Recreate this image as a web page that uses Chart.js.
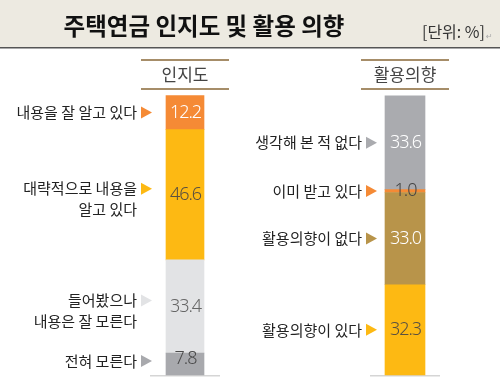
<!DOCTYPE html>
<html>
<head>
<meta charset="utf-8">
<script src="https://cdn.jsdelivr.net/npm/chart.js@4.4.1/dist/chart.umd.min.js"></script>
<style>
  html, body { margin: 0; padding: 0; background: #fff; }
  #wrap { position: relative; width: 500px; height: 381px; }
</style>
</head>
<body>
<div id="wrap"><canvas id="pensionChart" width="500" height="381"></canvas></div>
<script>
const title = "주택연금 인지도 및 활용 의향";
const unitLabel = "[단위: %]";
const columns = ["인지도", "활용의향"];

// segments listed top to bottom, as in the picture
const awarenessLabels = [["내용을 잘 알고 있다"], ["대략적으로 내용을", "알고 있다"], ["들어봤으나", "내용은 잘 모른다"], ["전혀 모른다"]];
const awarenessValues = [12.2, 46.6, 33.4, 7.8];

const intentionLabels = [["생각해 본 적 없다"], ["이미 받고 있다"], ["활용의향이 없다"], ["활용의향이 있다"]];
const intentionValues = [33.6, 1.0, 33.0, 32.3];

const awarenessColors = ["#F58A35", "#FDB913", "#E2E3E5", "#A8A9AD"];
const awarenessTextColors = ["#ffffff", "#5a5040", "#666666", "#4a4a4a"];
const intentionColors = ["#AAABAF", "#F58A35", "#B8944A", "#FDB913"];
const intentionTextColors = ["#ffffff", "#444444", "#ffffff", "#5a5040"];

const datasets = [];

// Chart.js stacks from the bottom up, so push the last segment first
const addColumn = (colIndex, labels, values, colors, textColors, thickness, gap) => {
    for (let i = values.length - 1; i >= 0; i--) {
        datasets.push({
            label: labels[i].join(" "),
            lines: labels[i],
            data: columns.map((c, k) => (k === colIndex ? values[i] : null)),
            backgroundColor: colors[i],
            valueColor: textColors[i],
            barThickness: thickness,
            arrowGap: gap,
            isBase: i === values.length - 1,
            borderWidth: 0,
            clip: false,
            stack: "total"
        });
    }
};

addColumn(0, awarenessLabels, awarenessValues, awarenessColors, awarenessTextColors, 38, 14);
addColumn(1, intentionLabels, intentionValues, intentionColors, intentionTextColors, 40, 8);

const decorPlugin = {
    id: "decor",
    beforeDraw(chart) {
        const ctx = chart.ctx;
        ctx.save();

        // title band
        ctx.fillStyle = "#EDEAE1";
        ctx.fillRect(0, 0, chart.width, 47);
        ctx.fillStyle = "#555";
        ctx.fillRect(0, 47, chart.width, 1.5);

        ctx.textBaseline = "middle";
        ctx.textAlign = "center";
        ctx.fillStyle = "#111";
        ctx.font = "bold 23.5px 'Noto Sans CJK KR'";
        ctx.fillText(title, 204, 26);

        ctx.textAlign = "right";
        ctx.fillStyle = "#333";
        ctx.font = "16px 'Noto Sans CJK KR'";
        ctx.fillText(unitLabel, 485, 32);
        ctx.fillStyle = "#aaa";
        ctx.font = "8px 'DejaVu Sans'";
        ctx.textAlign = "left";
        ctx.fillText("↵", 486, 37);

        // column headers and baselines
        const xs = chart.scales.x;
        const base = chart.scales.y.getPixelForValue(0);
        columns.forEach((name, k) => {
            const cx = xs.getPixelForValue(k);
            ctx.fillStyle = "#A68D69";
            ctx.fillRect(cx - 44, 59, 88, 2);
            ctx.fillRect(cx - 44, 88, 88, 2);

            ctx.fillStyle = "#444";
            ctx.font = "17px 'Noto Sans CJK KR'";
            ctx.textAlign = "center";
            ctx.fillText(name, cx, 75);

            ctx.fillStyle = "#D5D5D5";
            ctx.fillRect(cx - 35, base, 70, 1.5);
        });
        ctx.restore();
    },
    afterDatasetsDraw(chart) {
        const ctx = chart.ctx;
        ctx.save();
        ctx.textBaseline = "middle";

        chart.data.datasets.forEach((ds, di) => {
            const meta = chart.getDatasetMeta(di);
            meta.data.forEach((bar, k) => {
                if (ds.data[k] == null) return;
                const { x, y, base, width } = bar.getProps(["x", "y", "base", "width"], true);
                const mid = (y + base) / 2;

                // value inside the bar
                const valueY = ds.isBase ? Math.min(mid, base - 16) : mid;
                ctx.font = "300 18px 'Noto Sans'";
                ctx.letterSpacing = "-1px";
                ctx.fillStyle = ds.valueColor;
                ctx.textAlign = "center";
                ctx.fillText(ds.data[k].toFixed(1), x + 0.5, valueY);
                ctx.letterSpacing = "0px";

                // arrow marker
                let arrowY = ds.lines.length > 1 ? mid - 6 : mid;
                if (ds.isBase) arrowY = Math.min(arrowY, base - 14);
                const tipX = x - width / 2 - ds.arrowGap;
                ctx.fillStyle = ds.backgroundColor;
                ctx.beginPath();
                ctx.moveTo(tipX, arrowY);
                ctx.lineTo(tipX - 11, arrowY - 6);
                ctx.lineTo(tipX - 11, arrowY + 6);
                ctx.closePath();
                ctx.fill();

                // category label
                ctx.font = "15px 'Noto Sans CJK KR'";
                ctx.fillStyle = "#222";
                ctx.textAlign = "right";
                ds.lines.forEach((line, li) => {
                    ctx.fillText(line, tipX - 15, arrowY + li * 21);
                });
            });
        });
        ctx.restore();
    }
};

new Chart(document.getElementById("pensionChart"), {
    type: "bar",
    data: { labels: columns, datasets: datasets },
    options: {
        responsive: false,
        animation: false,
        layout: { padding: { top: 95.5, bottom: 6, left: 185, right: 95 } },
        plugins: {
            legend: { display: false },
            tooltip: { enabled: false }
        },
        scales: {
            x: { type: "category", stacked: true, offset: false, display: false },
            y: { stacked: true, min: 0, max: 100, display: false }
        }
    },
    plugins: [decorPlugin]
});
</script>
</body>
</html>
